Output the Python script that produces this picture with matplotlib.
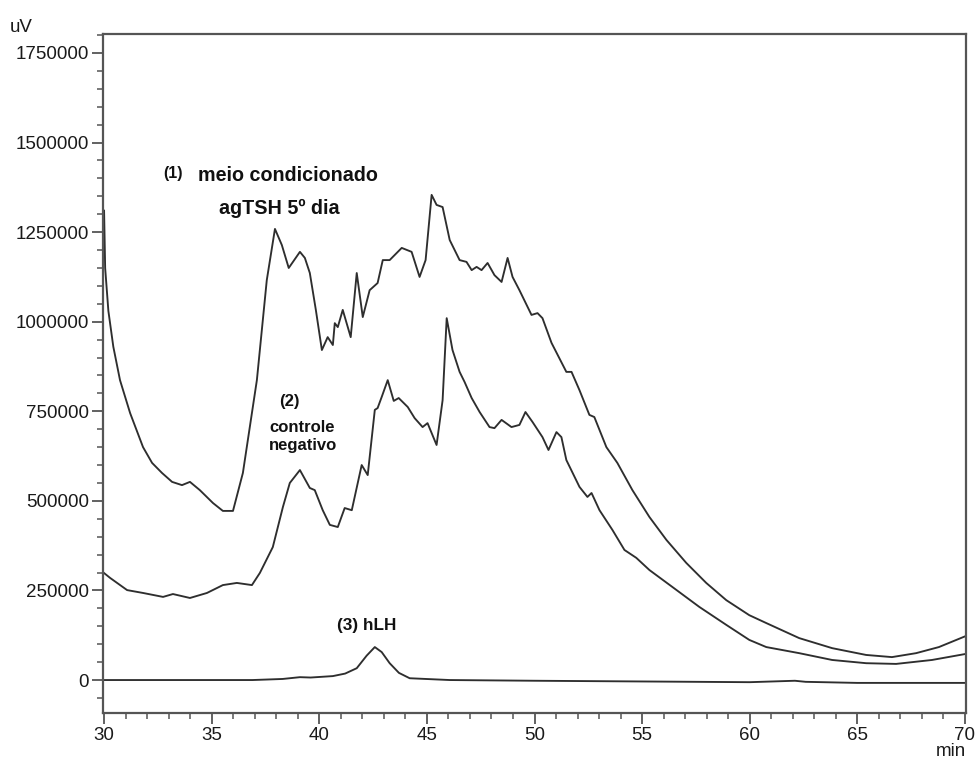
import matplotlib
matplotlib.use("Agg")
import matplotlib.pyplot as plt
from matplotlib.ticker import MultipleLocator, FixedLocator

plt.rcParams['font.family'] = ['Liberation Sans', 'DejaVu Sans']

# (1) meio condicionado agTSH 5º dia
t1 = [30.0, 30.05, 30.2, 30.43, 30.74, 31.21, 31.81, 32.23, 32.69, 33.16, 33.62, 33.99, 34.45, 35.06,
      35.52, 35.99, 36.45, 37.10, 37.56, 37.94, 38.26, 38.58, 39.10, 39.33, 39.56, 39.84, 40.12, 40.39,
      40.63, 40.72, 40.86, 41.09, 41.46, 41.74, 42.02, 42.34, 42.71, 42.95, 43.27, 43.83, 44.29, 44.66,
      44.94, 45.22, 45.45, 45.73, 46.06, 46.52, 46.84, 47.08, 47.31, 47.54, 47.82, 48.14, 48.47, 48.75,
      48.98, 49.30, 49.86, 50.14, 50.37, 50.79, 51.48, 51.72, 52.09, 52.55, 52.78, 53.34, 53.85, 54.55,
      55.34, 56.13, 57.05, 57.98, 58.91, 59.98, 60.77, 62.30, 63.83, 65.41, 66.61, 67.73, 68.79, 70.05]
s1 = [1310000, 1150000, 1030000, 930000, 837000, 745000, 650000, 606000, 578000, 553000, 544000, 553000,
      530000, 494000, 472000, 472000, 578000, 837000, 1116000, 1259000, 1214000, 1150000, 1195000,
      1178000, 1136000, 1033000, 921000, 957000, 935000, 996000, 985000, 1033000, 957000, 1136000,
      1013000, 1088000, 1108000, 1172000, 1172000, 1206000, 1195000, 1125000, 1172000, 1354000, 1326000,
      1320000, 1228000, 1172000, 1167000, 1144000, 1153000, 1144000, 1164000, 1130000, 1111000, 1178000,
      1125000, 1088000, 1019000, 1024000, 1010000, 941000, 860000, 860000, 809000, 740000, 734000, 650000,
      606000, 530000, 455000, 391000, 327000, 271000, 223000, 181000, 159000, 117000, 89000, 70000, 64000,
      75000, 92000, 123000]

# (2) controle negativo
t2 = [29.95, 30.28, 31.07, 31.81, 32.74, 33.20, 33.99, 34.78, 35.52, 36.17, 36.87, 37.24, 37.84, 38.31,
      38.63, 39.10, 39.56, 39.79, 40.16, 40.49, 40.86, 41.18, 41.51, 41.97, 42.25, 42.58, 42.71, 42.90,
      43.18, 43.46, 43.69, 44.11, 44.43, 44.80, 45.03, 45.45, 45.73, 45.92, 46.19, 46.52, 46.75, 47.08,
      47.45, 47.91, 48.14, 48.47, 48.93, 49.30, 49.58, 49.91, 50.37, 50.65, 51.02, 51.25, 51.48, 52.09,
      52.46, 52.65, 53.02, 53.62, 54.18, 54.73, 55.34, 56.40, 57.66, 58.91, 59.98, 60.77, 62.30, 63.83,
      65.41, 66.80, 68.47, 70.05]
s2 = [301000, 285000, 251000, 243000, 232000, 240000, 229000, 243000, 265000, 271000, 265000, 299000,
      371000, 483000, 550000, 586000, 536000, 530000, 474000, 433000, 427000, 480000, 474000, 600000,
      572000, 754000, 759000, 790000, 837000, 779000, 787000, 762000, 731000, 706000, 717000, 656000,
      781000, 1010000, 921000, 860000, 832000, 787000, 748000, 706000, 703000, 726000, 706000, 712000,
      748000, 720000, 678000, 642000, 692000, 678000, 614000, 539000, 511000, 522000, 474000, 419000,
      363000, 341000, 307000, 260000, 204000, 154000, 112000, 92000, 75000, 56000, 47000, 45000, 56000,
      73000]

# (3) hLH
t3 = [29.95, 36.9, 38.3, 39.1, 39.6, 40.63, 41.2, 41.74, 42.2, 42.58, 42.9, 43.27, 43.7, 44.2, 46.06,
      50.0, 55.0, 60.0, 62.1, 62.6, 65.0, 70.05]
s3 = [0, 0, 3000, 8000, 7000, 11000, 18000, 33000, 68000, 92000, 78000, 47000, 20000, 5000, 0,
      -2000, -4000, -6000, -2000, -5000, -8000, -8000]

fig = plt.figure(figsize=(9.75, 7.65), dpi=100)
ax = fig.add_axes([103/975, 1 - 713/765, (966 - 103)/975, (713 - 34)/765])

lc = '#2e2e2e'
for t, s in [(t1, s1), (t2, s2), (t3, s3)]:
    ax.plot(t, s, color=lc, lw=1.35, solid_joinstyle='round')

ax.set_xlim(29.95, 70.05)
ax.set_ylim(-92000, 1803000)
ax.xaxis.set_major_locator(FixedLocator([30, 35, 40, 45, 50, 55, 60, 65, 70]))
ax.xaxis.set_minor_locator(MultipleLocator(1))
ax.yaxis.set_major_locator(FixedLocator([0, 250000, 500000, 750000, 1000000, 1250000, 1500000, 1750000]))
ax.yaxis.set_minor_locator(MultipleLocator(50000))
ax.yaxis.set_major_formatter(matplotlib.ticker.FuncFormatter(lambda v, p: f"{int(v)}"))

for sp in ax.spines.values():
    sp.set_color('#555555')
    sp.set_linewidth(1.6)
ax.tick_params(which='major', direction='out', length=8, width=1.3, color='#555555',
               labelsize=13.5, labelcolor='#1a1a1a', pad=2)
ax.tick_params(which='minor', direction='out', length=4.5, width=1.1, color='#555555')

fig.text(10/975, 1 - 28/765, 'uV', fontsize=13.5, color='#1a1a1a', ha='left', va='center')
fig.text(951/975, 1 - 752/765, 'min', fontsize=13.5, color='#1a1a1a', ha='center', va='center')

bold = dict(fontweight='bold', color='#111111')
ax.text(33.2, 1415000, '(1)', fontsize=11.5, ha='center', va='center', **bold)
ax.text(38.55, 1408000, 'meio condicionado', fontsize=14.2, ha='center', va='center', **bold)
ax.text(38.15, 1317000, 'agTSH 5º dia', fontsize=14.2, ha='center', va='center', **bold)
ax.text(38.63, 778000, '(2)', fontsize=12, ha='center', va='center', **bold)
ax.text(39.2, 706000, 'controle', fontsize=12, ha='center', va='center', **bold)
ax.text(39.25, 655000, 'negativo', fontsize=12, ha='center', va='center', **bold)
ax.text(42.2, 153000, '(3) hLH', fontsize=12.3, ha='center', va='center', **bold)

fig.savefig('out.png', dpi=100)
